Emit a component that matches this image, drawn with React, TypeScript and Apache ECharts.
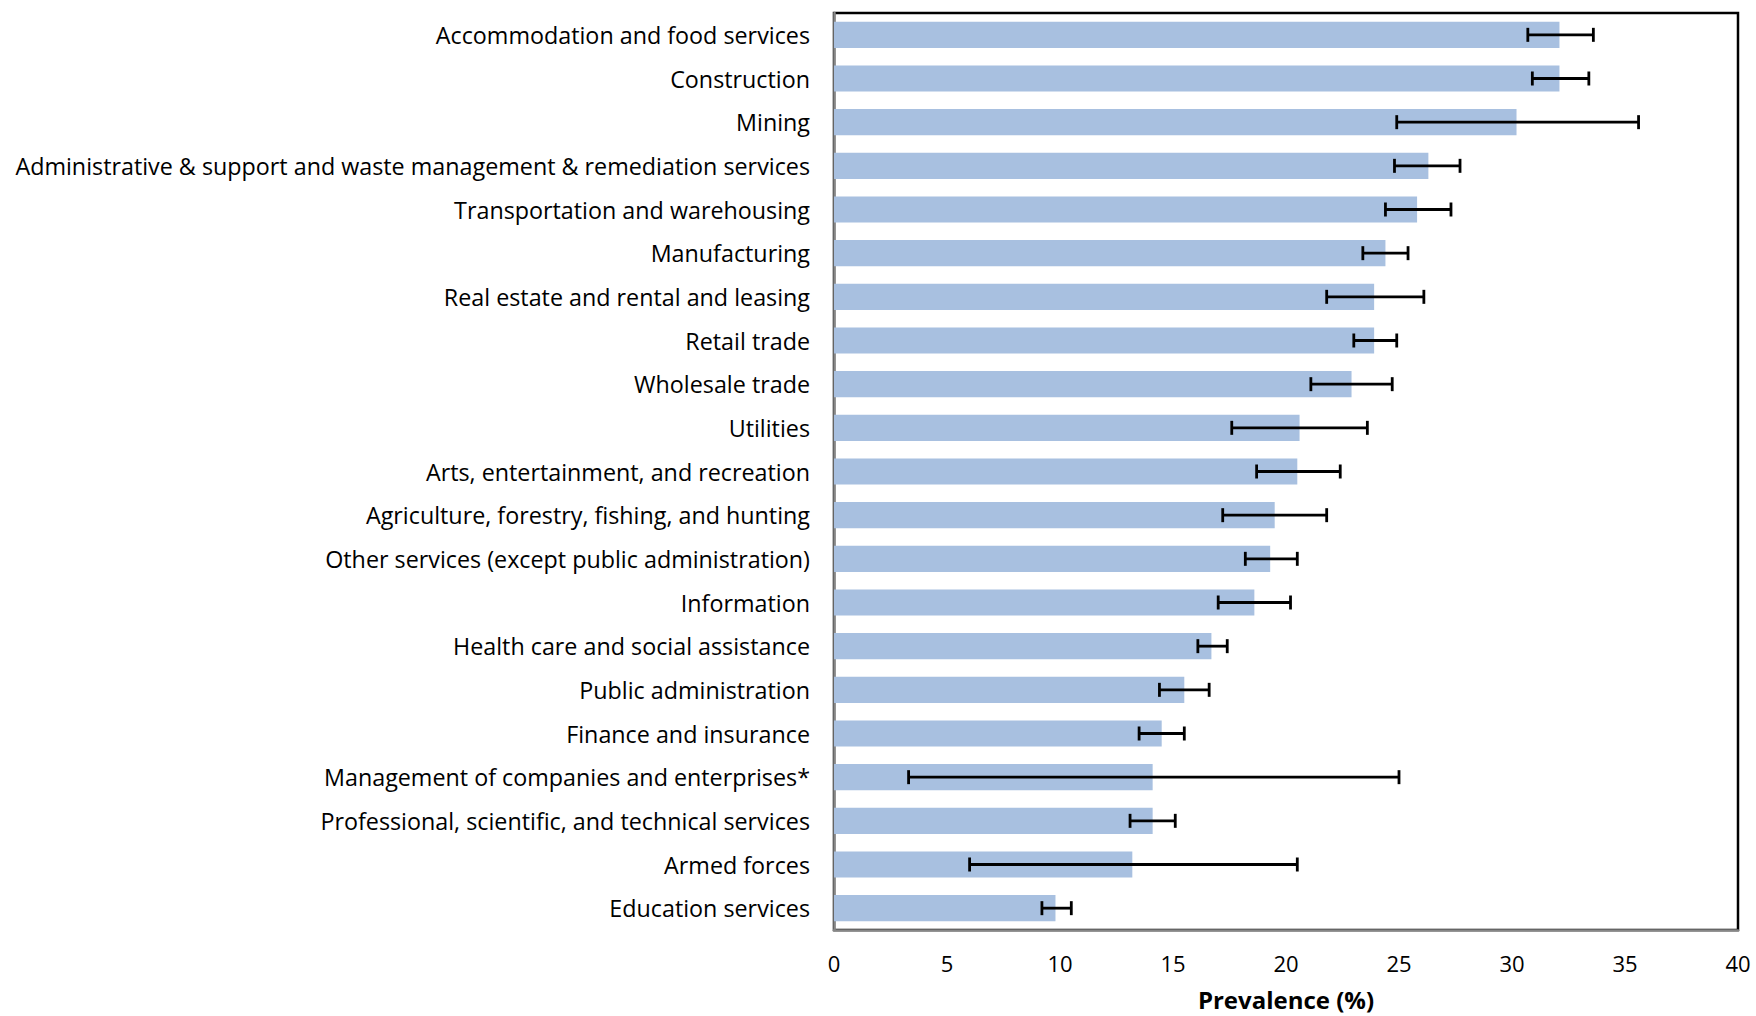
import React, { useEffect, useRef } from "react";
import * as echarts from "echarts";

const categories = [
  "Accommodation and food services",
  "Construction",
  "Mining",
  "Administrative & support and waste management & remediation services",
  "Transportation and warehousing",
  "Manufacturing",
  "Real estate and rental and leasing",
  "Retail trade",
  "Wholesale trade",
  "Utilities",
  "Arts, entertainment, and recreation",
  "Agriculture, forestry, fishing, and hunting",
  "Other services (except public administration)",
  "Information",
  "Health care and social assistance",
  "Public administration",
  "Finance and insurance",
  "Management of companies and enterprises*",
  "Professional, scientific, and technical services",
  "Armed forces",
  "Education services",
];

const prevalence = [32.1, 32.1, 30.2, 26.3, 25.8, 24.4, 23.9, 23.9, 22.9, 20.6, 20.5, 19.5, 19.3, 18.6, 16.7, 15.5, 14.5, 14.1, 14.1, 13.2, 9.8];
const lowerCI = [30.7, 30.9, 24.9, 24.8, 24.4, 23.4, 21.8, 23.0, 21.1, 17.6, 18.7, 17.2, 18.2, 17.0, 16.1, 14.4, 13.5, 3.3, 13.1, 6.0, 9.2];
const upperCI = [33.6, 33.4, 35.6, 27.7, 27.3, 25.4, 26.1, 24.9, 24.7, 23.6, 22.4, 21.8, 20.5, 20.2, 17.4, 16.6, 15.5, 25.0, 15.1, 20.5, 10.5];
const xTicks = [0, 5, 10, 15, 20, 25, 30, 35, 40];

const FONT = "'Open Sans', 'Noto Sans', sans-serif";

export default function App() {
  const ref = useRef<HTMLDivElement>(null);
  useEffect(() => {
    if (!ref.current) return;
    const chart = echarts.init(ref.current, undefined, { renderer: "svg" });
    const errData = categories.map((_, i) => [i, lowerCI[i], upperCI[i]]);
    chart.setOption({
      animation: false,
      backgroundColor: "#fff",
      grid: {
        left: 834,
        right: 18,
        top: 13,
        bottom: 80,
        show: true,
        borderColor: "#000",
        borderWidth: 2.5,
        backgroundColor: "transparent",
      },
      xAxis: {
        type: "value",
        min: xTicks[0],
        max: xTicks[xTicks.length - 1],
        interval: 5,
        splitLine: { show: false },
        axisTick: { show: false },
        axisLine: { show: true, lineStyle: { color: "#878787", width: 2.5 } },
        axisLabel: { fontFamily: FONT, fontSize: 22, color: "#000", margin: 22 },
        name: "Prevalence (%)",
        nameLocation: "middle",
        nameGap: 57,
        nameTextStyle: { fontFamily: FONT, fontSize: 24, fontWeight: "bold", color: "#000" },
      },
      yAxis: {
        type: "category",
        data: categories,
        inverse: true,
        axisTick: { show: false },
        axisLine: { show: true, lineStyle: { color: "#878787", width: 2.5 } },
        axisLabel: { fontFamily: FONT, fontSize: 23.3, color: "#000", margin: 24 },
        splitLine: { show: false },
      },
      series: [
        {
          type: "bar",
          data: prevalence,
          barCategoryGap: "40%",
          itemStyle: { color: "#a8c0e0" },
          z: 2,
        },
        {
          type: "custom",
          data: errData,
          z: 5,
          renderItem: (params: any, api: any) => {
            const cat = api.value(0);
            const lo = api.coord([api.value(1), cat]);
            const hi = api.coord([api.value(2), cat]);
            const h = 7;
            const style = { stroke: "#000", lineWidth: 2.8 };
            return {
              type: "group",
              children: [
                { type: "line", shape: { x1: lo[0], y1: lo[1], x2: hi[0], y2: hi[1] }, style },
                { type: "line", shape: { x1: lo[0], y1: lo[1] - h, x2: lo[0], y2: lo[1] + h }, style },
                { type: "line", shape: { x1: hi[0], y1: hi[1] - h, x2: hi[0], y2: hi[1] + h }, style },
              ],
            };
          },
        },
      ],
    });
    return () => chart.dispose();
  }, []);
  return (
    <div
      ref={ref}
      style={{ position: "fixed", left: 0, top: 0, width: 1756, height: 1016, background: "#fff" }}
    />
  );
}
